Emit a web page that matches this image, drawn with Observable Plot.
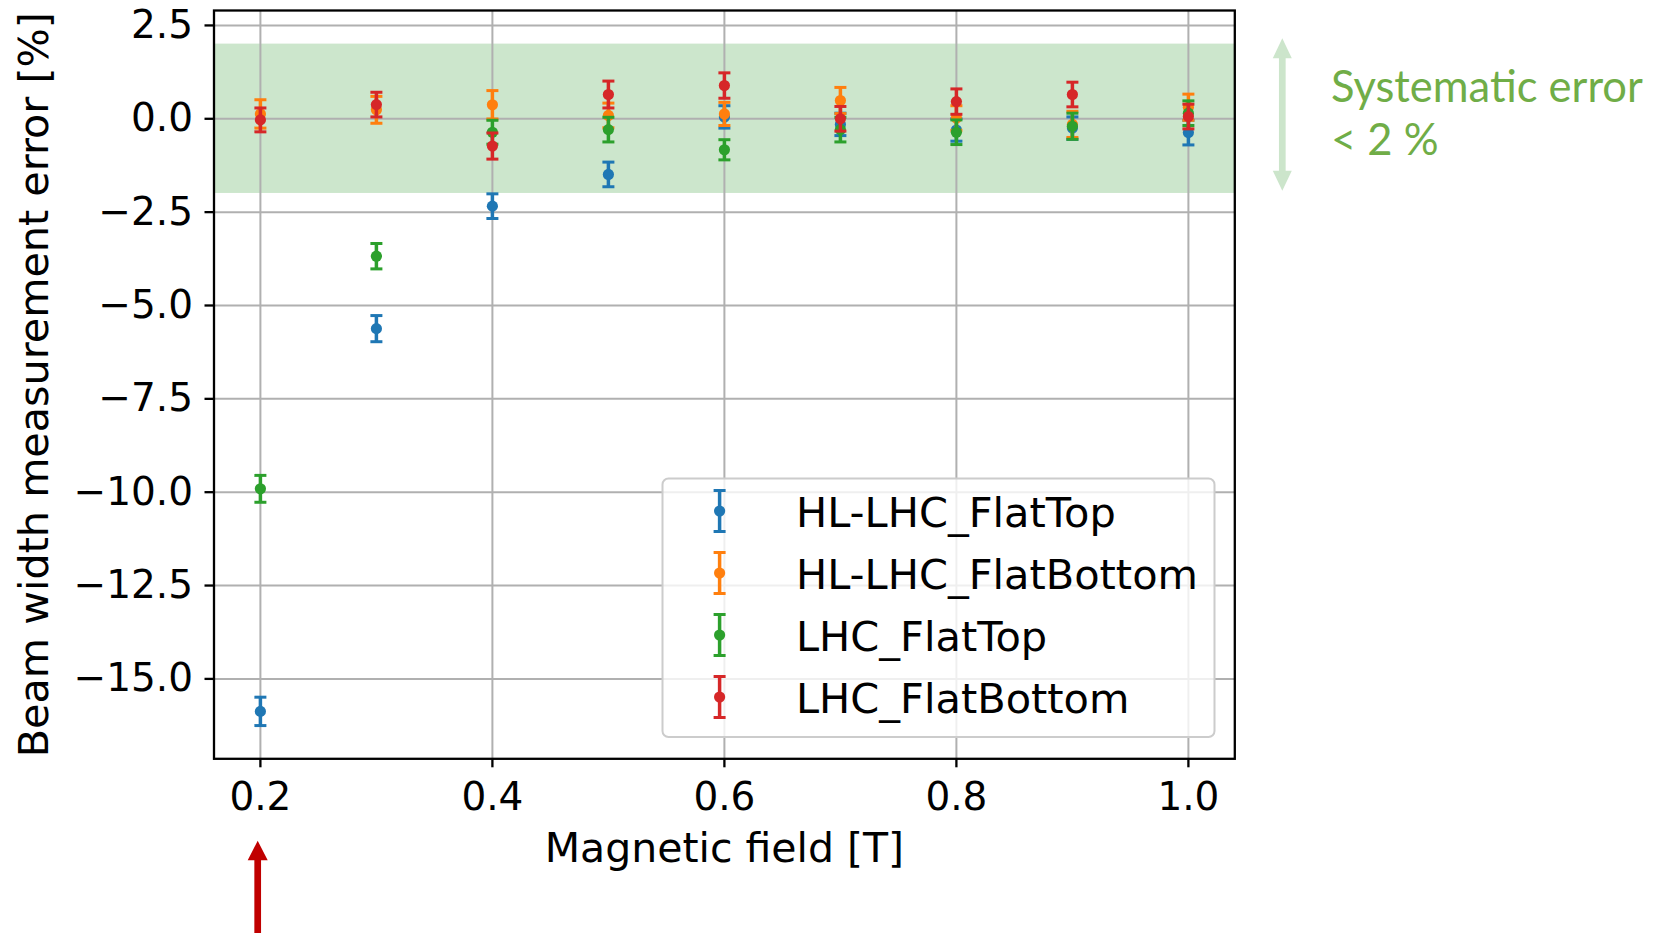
<!DOCTYPE html>
<html><head><meta charset="utf-8">
<script src="https://cdn.jsdelivr.net/npm/d3@7"></script>
<script src="https://cdn.jsdelivr.net/npm/@observablehq/plot@0.6"></script>
<style>
html,body{margin:0;padding:0;background:#fff;overflow:hidden}
#chart{position:relative;width:1667px;height:933px}
g[aria-label$="axis tick"]{stroke-width:2.3px}
g[aria-label$="-axis"] .tick line{stroke-width:2.3px}
</style></head><body><div id="chart"></div>
<script>
// ---- data ----
const fields = [0.2, 0.3, 0.4, 0.5, 0.6, 0.7, 0.8, 0.9, 1.0];
const seriesNames = ["HL-LHC_FlatTop", "HL-LHC_FlatBottom", "LHC_FlatTop", "LHC_FlatBottom"];
const seriesColors = ["#1f77b4", "#ff7f0e", "#2ca02c", "#d62728"];
const hlFlatTop       = [-15.87, -5.62, -2.34, -1.49, 0.05, -0.15, -0.30, -0.25, -0.37];
const hlFlatTopErr    = [0.38, 0.35, 0.33, 0.33, 0.30, 0.30, 0.30, 0.30, 0.33];
const hlFlatBottom    = [0.13, 0.24, 0.375, 0.09, 0.13, 0.49, 0.02, -0.15, 0.31];
const hlFlatBottomErr = [0.38, 0.36, 0.38, 0.33, 0.31, 0.35, 0.33, 0.35, 0.35];
const lhcFlatTop      = [-9.91, -3.68, -0.36, -0.29, -0.83, -0.29, -0.36, -0.20, 0.15];
const lhcFlatTopErr   = [0.36, 0.34, 0.32, 0.33, 0.27, 0.33, 0.33, 0.35, 0.33];
const lhcFlatBottom   = [-0.03, 0.38, -0.73, 0.65, 0.89, 0.00, 0.46, 0.65, 0.06];
const lhcFlatBottomErr= [0.32, 0.33, 0.35, 0.36, 0.34, 0.33, 0.34, 0.33, 0.33];
const seriesValues = [hlFlatTop, hlFlatBottom, lhcFlatTop, lhcFlatBottom];
const seriesErrors = [hlFlatTopErr, hlFlatBottomErr, lhcFlatTopErr, lhcFlatBottomErr];
const xTicks = [0.2, 0.4, 0.6, 0.8, 1.0];
const yTicks = [2.5, 0, -2.5, -5, -7.5, -10, -12.5, -15];
const xDomain = [0.16, 1.04];
const yDomain = [-17.14, 2.9];
const bandLimit = 2;
const xLabel = "Magnetic field [T]";
const yLabel = "Beam width measurement error [%]";
const noteLines = ["Systematic error", "< 2 %"];

// ---- marks ----
const capSymbol = {draw(ctx, size) { const w = Math.sqrt(size / Math.PI); ctx.moveTo(-w, 0); ctx.lineTo(w, 0); }};
const marks = [
  Plot.rect([bandLimit], {x1: xDomain[0], x2: xDomain[1], y1: d => -d, y2: d => d, fill: "green", fillOpacity: 0.2}),
  Plot.ruleX(xTicks, {stroke: "#b0b0b0", strokeWidth: 2}),
  Plot.ruleY(yTicks, {stroke: "#b0b0b0", strokeWidth: 2})
];
seriesNames.forEach((name, i) => {
  const rows = fields.map((x, j) => ({x, y: seriesValues[i][j], e: seriesErrors[i][j]}));
  const c = seriesColors[i];
  marks.push(
    Plot.ruleX(rows, {x: "x", y1: d => d.y - d.e, y2: d => d.y + d.e, stroke: c, strokeWidth: 3.5}),
    Plot.dot(rows, {x: "x", y: d => d.y + d.e, symbol: capSymbol, r: 6, stroke: c, strokeWidth: 3, fill: "none", strokeLinecap: "butt"}),
    Plot.dot(rows, {x: "x", y: d => d.y - d.e, symbol: capSymbol, r: 6, stroke: c, strokeWidth: 3, fill: "none", strokeLinecap: "butt"}),
    Plot.dot(rows, {x: "x", y: "y", r: 5.6, fill: c, stroke: "none"})
  );
});
marks.push(
  Plot.frame({stroke: "black", strokeWidth: 2.3}),
  Plot.text([xLabel], {frameAnchor: "bottom", lineAnchor: "bottom", textAnchor: "middle", dy: 103.4, fontSize: 41, fill: "black"}),
  Plot.text([yLabel], {frameAnchor: "left", lineAnchor: "bottom", textAnchor: "middle", rotate: -90, dx: -166, fontSize: 41.3, fill: "black"})
);

const plot = Plot.plot({
  width: 1667, height: 933,
  marginLeft: 213.5, marginRight: 432.7, marginTop: 10, marginBottom: 174.7,
  style: {fontFamily: "DejaVu Sans", fontSize: "39px", color: "black", background: "white", overflow: "visible"},
  x: {domain: xDomain, ticks: xTicks, tickFormat: ".1f", tickSize: 9, tickPadding: 14, label: null},
  y: {domain: yDomain, ticks: yTicks, tickFormat: ".1f", tickSize: 9, tickPadding: 12, label: null},
  marks
});
document.getElementById("chart").appendChild(plot);

// ---- legend & annotations (overlay) ----
const svg = d3.select(plot);
const lg = svg.append("g").attr("font-family", "DejaVu Sans").attr("text-anchor", "start");
lg.append("rect").attr("x", 662.5).attr("y", 478.5).attr("width", 552).attr("height", 258.5)
  .attr("rx", 6).attr("fill", "white").attr("fill-opacity", 0.8).attr("stroke", "#cccccc").attr("stroke-width", 2);
seriesNames.forEach((name, i) => {
  const cy = 511 + i * 62;
  const cx = 719.6;
  const c = seriesColors[i];
  lg.append("line").attr("x1", cx).attr("x2", cx).attr("y1", cy - 20.5).attr("y2", cy + 20.5).attr("stroke", c).attr("stroke-width", 3.5);
  [cy - 20.5, cy + 20.5].forEach(yy => lg.append("line").attr("x1", cx - 6).attr("x2", cx + 6).attr("y1", yy).attr("y2", yy).attr("stroke", c).attr("stroke-width", 3));
  lg.append("circle").attr("cx", cx).attr("cy", cy).attr("r", 5.6).attr("fill", c);
  lg.append("text").attr("x", 796).attr("y", cy + 15.5).attr("font-size", 41.5).attr("fill", "black").attr("text-anchor", "start").text(name);
});

function vArrow(g, x, yTip, yEnd, shaftW, headW, headL, color, both) {
  const s = shaftW / 2, h = headW / 2;
  let d;
  if (both) {
    d = `M${x},${yTip} L${x + h},${yTip + headL} L${x + s},${yTip + headL} L${x + s},${yEnd - headL} L${x + h},${yEnd - headL} L${x},${yEnd} L${x - h},${yEnd - headL} L${x - s},${yEnd - headL} L${x - s},${yTip + headL} L${x - h},${yTip + headL} Z`;
  } else {
    d = `M${x},${yTip} L${x + h},${yTip + headL} L${x + s},${yTip + headL} L${x + s},${yEnd} L${x - s},${yEnd} L${x - s},${yTip + headL} L${x - h},${yTip + headL} Z`;
  }
  g.append("path").attr("d", d).attr("fill", color);
}
const ann = svg.append("g").attr("text-anchor", "start");
vArrow(ann, 1282.3, 38.3, 190.7, 6.7, 19, 20, "#cce5cb", true);
vArrow(ann, 257.7, 840.7, 940, 6.7, 20, 19.5, "#c00000", false);
noteLines.forEach((t, i) => {
  ann.append("text").attr("x", 1331).attr("y", 101.7 + i * 53.3).attr("text-anchor", "start")
    .attr("font-family", "Lato").attr("font-size", 43.5).attr("fill", "#70ad47").text(t);
});
</script></body></html>
